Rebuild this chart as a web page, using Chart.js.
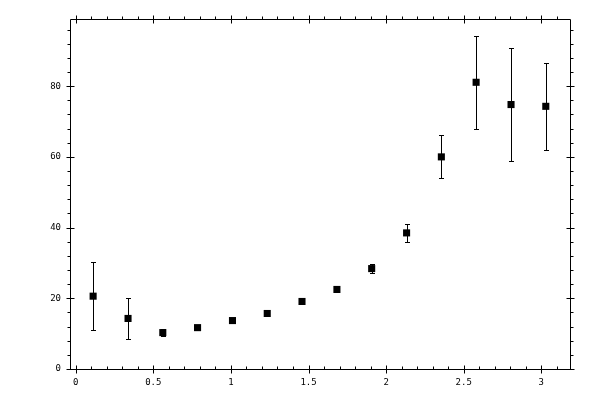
<!DOCTYPE html>
<html>
<head>
<meta charset="utf-8">
<script src="https://cdn.jsdelivr.net/npm/chart.js@4"></script>
<style>
  html, body { margin: 0; padding: 0; background: #fff; }
</style>
</head>
<body>
<canvas id="chart" width="600" height="400"></canvas>
<script>
// measured points (x, y, symmetric error)
var xs   = [0.112, 0.337, 0.561, 0.785, 1.010, 1.234, 1.458, 1.683, 1.907, 2.132, 2.356, 2.580, 2.805, 3.029];
var ys   = [20.6, 14.3, 10.3, 11.7, 13.7, 15.7, 19.1, 22.5, 28.4, 38.5, 60.0, 81.1, 74.8, 74.3];
var errs = [9.7, 5.9, 1.1, 0.3, 0.3, 0.3, 0.4, 0.5, 1.3, 2.5, 6.1, 13.1, 15.9, 12.3];

// axis ticks
var xTicks = [0, 0.5, 1, 1.5, 2, 2.5, 3];
var yTicks = [0, 20, 40, 60, 80];
var xMinor = 0.1;
var yMinor = 4;

var tickFont = { family: 'DejaVu Sans Mono', size: 9 };

// build the point list for chart.js
var points = [];
for (var i = 0; i < xs.length; i++) {
  points.push({ x: xs[i], y: ys[i] });
}

// error bars, drawn under the squares
var errorBars = {
  id: 'errorBars',
  beforeDatasetsDraw: function(chart) {
    var ctx = chart.ctx;
    var sx = chart.scales.x, sy = chart.scales.y;
    ctx.save();
    ctx.strokeStyle = '#000';
    ctx.lineWidth = 1;
    for (var i = 0; i < xs.length; i++) {
      var px = Math.round(sx.getPixelForValue(xs[i])) + 0.5;
      var top = Math.round(sy.getPixelForValue(ys[i] + errs[i])) + 0.5;
      var bot = Math.round(sy.getPixelForValue(ys[i] - errs[i])) + 0.5;
      ctx.beginPath();
      ctx.moveTo(px, top); ctx.lineTo(px, bot);
      ctx.moveTo(px - 2.5, top); ctx.lineTo(px + 2.5, top);
      ctx.moveTo(px - 2.5, bot); ctx.lineTo(px + 2.5, bot);
      ctx.stroke();
    }
    ctx.restore();
  }
};

// frame with major/minor tick marks on all four sides
var frame = {
  id: 'frame',
  afterDraw: function(chart) {
    var ctx = chart.ctx;
    var a = chart.chartArea;
    var sx = chart.scales.x, sy = chart.scales.y;
    var L = Math.round(a.left) + 0.5, R = Math.round(a.right) + 0.5;
    var T = Math.round(a.top) + 0.5, B = Math.round(a.bottom) + 0.5;
    ctx.save();
    ctx.strokeStyle = '#000';
    ctx.lineWidth = 1;
    ctx.beginPath();
    ctx.rect(L, T, R - L, B - T);
    // x ticks
    for (var k = 0; k * xMinor <= sx.max + 1e-9; k++) {
      var v = k * xMinor;
      if (v < sx.min) continue;
      var px = Math.round(sx.getPixelForValue(v)) + 0.5;
      var major = k % 5 === 0;
      if (major) {
        ctx.moveTo(px, B - 4); ctx.lineTo(px, B + 4);
        ctx.moveTo(px, T - 4); ctx.lineTo(px, T + 4);
      } else {
        ctx.moveTo(px, B - 3); ctx.lineTo(px, B);
        ctx.moveTo(px, T - 3); ctx.lineTo(px, T);
      }
    }
    // y ticks
    for (var j = 0; j * yMinor <= sy.max + 1e-9; j++) {
      var w = j * yMinor;
      var py = Math.round(sy.getPixelForValue(w)) + 0.5;
      var maj = j % 5 === 0;
      if (maj) {
        ctx.moveTo(L - 4, py); ctx.lineTo(L + 4, py);
        ctx.moveTo(R - 4, py); ctx.lineTo(R + 4, py);
      } else {
        ctx.moveTo(L - 3, py); ctx.lineTo(L, py);
        ctx.moveTo(R, py); ctx.lineTo(R + 3, py);
      }
    }
    ctx.stroke();
    ctx.restore();
  }
};

var ctx = document.getElementById('chart');
var chart = new Chart(ctx, {
  type: 'scatter',
  data: {
    datasets: [{
      data: points,
      pointStyle: 'rect',
      pointRadius: 5,
      pointHoverRadius: 5,
      backgroundColor: '#000',
      borderColor: '#000',
      borderWidth: 0
    }]
  },
  options: {
    responsive: false,
    devicePixelRatio: 1,
    animation: false,
    layout: { padding: { top: 19, right: 30, left: 0, bottom: 0 } },
    plugins: { legend: { display: false }, tooltip: { enabled: false } },
    scales: {
      x: {
        type: 'linear',
        min: -0.037,
        max: 3.185,
        grid: { display: false, drawTicks: false },
        border: { display: false },
        ticks: {
          color: '#000',
          font: tickFont,
          padding: 8,
          maxRotation: 0,
          callback: function(v) { return String(v); }
        },
        afterBuildTicks: function(scale) {
          scale.ticks = xTicks.map(function(v) { return { value: v }; });
        },
        afterFit: function(scale) { scale.height = 31; }
      },
      y: {
        type: 'linear',
        min: 0,
        max: 99,
        grid: { display: false, drawTicks: false },
        border: { display: false },
        ticks: {
          color: '#000',
          font: tickFont,
          padding: 9,
          callback: function(v) { return String(v); }
        },
        afterBuildTicks: function(scale) {
          scale.ticks = yTicks.map(function(v) { return { value: v }; });
        },
        afterFit: function(scale) { scale.width = 70; }
      }
    }
  },
  plugins: [errorBars, frame]
});
</script>
</body>
</html>
